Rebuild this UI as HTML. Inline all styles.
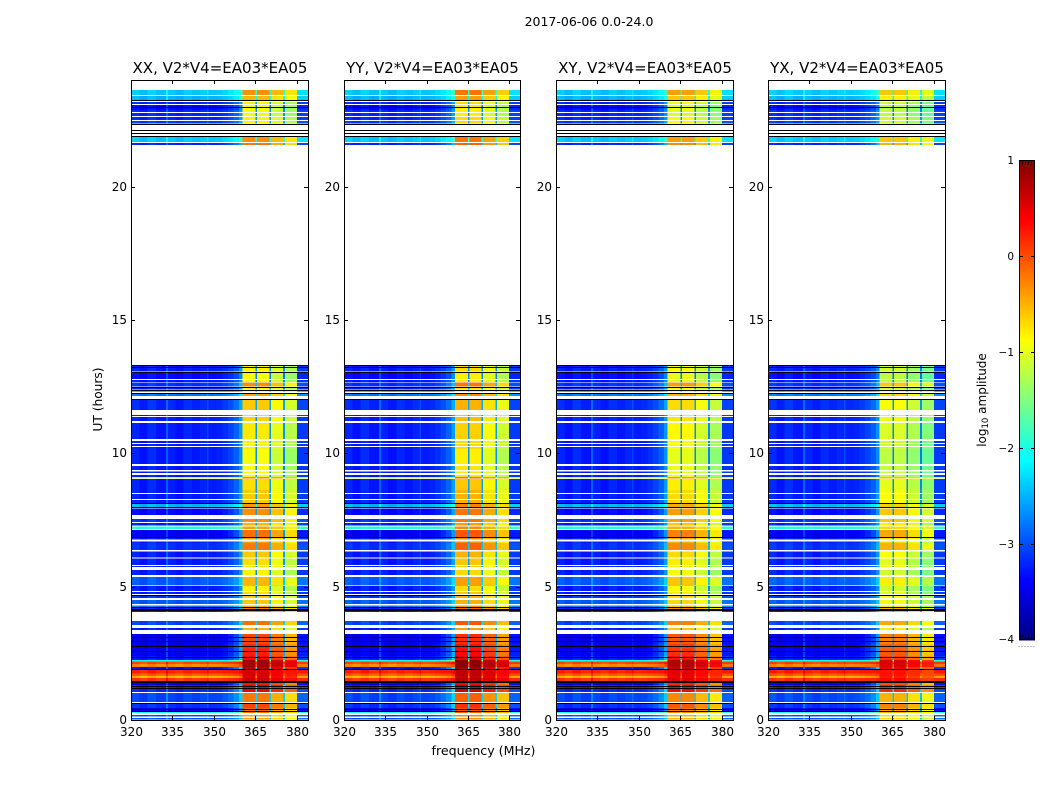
<!DOCTYPE html>
<html>
<head>
<meta charset="utf-8">
<title>2017-06-06 amplitude waterfall</title>
<style>
html,body{margin:0;padding:0;background:#fff;}
svg{display:block;}
text{font-family:"DejaVu Sans","Liberation Sans",sans-serif;fill:#000;}
</style>
</head>
<body>
<svg id="chart" xmlns="http://www.w3.org/2000/svg" width="1050" height="800" viewBox="0 0 1050 800">
<rect width="1050" height="800" fill="#fff"/>
<text x="589" y="26" font-size="12.5" text-anchor="middle">2017-06-06 0.0-24.0</text>
<text x="483.5" y="755" font-size="12.6" text-anchor="middle">frequency (MHz)</text>
<text x="0" y="0" font-size="12.2" text-anchor="middle" transform="translate(102,399.5) rotate(-90)">UT (hours)</text>
<text x="0" y="0" font-size="12" text-anchor="middle" transform="translate(986,400) rotate(-90)">log<tspan font-size="8.5" dy="2">10</tspan><tspan dy="-2"> amplitude</tspan></text>
</svg>
<script>
// Panels
const panelTitles = ["XX, V2*V4=EA03*EA05", "YY, V2*V4=EA03*EA05", "XY, V2*V4=EA03*EA05", "YX, V2*V4=EA03*EA05"];
const panelHighOffset = [0, 0.12, -0.08, -0.28];
const panelLowOffset = [0, 0, 0, 0.02];

// Ticks
const freqTicks = [320, 335, 350, 365, 380];
const utTicks = [0, 5, 10, 15, 20];
const colorTicks = [1, 0, -1, -2, -3, -4];

// Frequency channels (MHz edges), band-pass weight, and channel offset (log10 amplitude)
const chanEdges = [320,323,326,329,332.7,333.4,336,339,342,345,347.5,348,351,353,355,357,359,360.4,365,365.6,370,370.6,375,375.6,380,384];
const chanPass = [0,0,0,0,0.04,0,0,0,0,0,0.02,0,0,0.02,0.06,0.12,0.22,1,0.28,1,0.28,0.96,0.28,0.92,0.04];
const chanOffset = [0.05,-0.05,0.08,-0.03,0.25,0.02,-0.06,0.05,-0.02,0.04,0.15,0,0.03,0.05,0.05,0.05,0.08,-0.02,-0.1,-0.02,-0.1,-0.15,-0.1,-0.28,0.05];

// Time rows (UT hours): start, end, level outside band, level inside band
const rowEnd = [23.63,23.40,23.18,23.06,22.88,22.76,22.61,22.46,21.86,21.64,
13.31,13.20,13.01,12.75,12.65,12.45,12.36,12.26,12.00,11.44,11.36,11.14,10.46,10.35,10.24,10.16,9.52,9.32,9.19,9.11,9.04,8.63,8.48,8.25,8.14,7.93,7.54,7.39,7.25,7.13,6.84,6.69,6.64,6.32,6.05,5.78,5.63,5.36,5.06,5.03,4.80,4.65,4.50,4.29,4.22,4.13,
3.71,3.45,3.23,2.85,2.63,2.40,2.25,2.19,2.10,1.99,1.88,1.74,1.65,1.58,1.39,1.31,1.01,0.64,0.45,0.30,0.19,0.08];
const rowStart = [23.44,23.25,23.10,22.88,22.80,22.65,22.50,22.37,21.68,21.56,
13.24,13.07,12.79,12.68,12.51,12.39,12.32,12.15,11.63,11.40,11.21,10.54,10.38,10.27,10.16,9.60,9.38,9.26,9.11,9.06,8.63,8.51,8.29,8.14,7.99,7.69,7.43,7.29,7.17,6.87,6.77,6.64,6.38,6.09,5.81,5.74,5.44,5.06,5.03,4.84,4.73,4.58,4.35,4.24,4.13,4.05,
3.57,3.38,2.85,2.63,2.40,2.25,2.19,2.10,1.99,1.91,1.74,1.65,1.58,1.46,1.31,1.05,0.68,0.45,0.30,0.26,0.13,0.02];
const rowLow = [-2.4,-2.5,-3.2,-3.35,-3.2,-3.2,-3.2,-3.1,-2.4,-3.2,
-3.25,-3.25,-3.35,-3.25,-3.15,-3.25,-3.25,-2.8,-3.2,-3.25,-3.25,-3.25,-3.25,-3.25,-3.25,-3.25,-3.25,-3.25,-3.25,-1.1,-3.25,-3.25,-3.25,-3.25,-2.5,-3.35,-3.15,-3.25,-2,-3.45,-3.25,-3.25,-3.15,-3.25,-3.25,-3.25,-3.25,-2.95,-1.7,-3.25,-3.25,-3.15,-2.95,-2.8,-3.25,-3.25,
-3.05,-3.25,-3.5,-3.45,-3.45,-3.3,-2.1,0,-0.3,-3.3,0.2,-0.1,-0.5,0.1,-3.5,-3.2,-3.05,-3.15,-3.5,-2,-3,-3];
const rowHigh = [-0.3,-0.5,-0.8,-0.9,-0.9,-0.9,-0.8,-0.8,-0.3,-0.2,
-0.8,-0.8,-0.9,-0.9,-0.3,-0.8,-0.8,-0.4,-0.6,-0.7,-0.65,-0.75,-0.8,-0.8,-0.8,-0.9,-0.85,-0.85,-0.85,-0.25,-0.7,-0.6,-0.6,-0.6,-0.35,-0.3,-0.3,-0.5,-0.4,-0.15,-0.4,-0.4,-0.2,-0.6,-0.7,-0.7,-0.8,-0.5,-0.5,-0.8,-0.7,-0.6,-0.6,-0.5,-0.2,-0.2,
-0.15,-0.5,0.05,0.2,0.25,0.4,0.85,0.85,0.85,0.75,0.6,0.6,0.55,0.65,0.3,0.5,-0.2,0.05,-0.1,-0.2,-0.4,-0.4];

// Dark flagged lines in time (UT hours)
const blackLines = [23.25,22.99,22.35,22.13,22.01,21.90,13.31,13.24,13.05,12.49,12.38,12.26,12.04,8.14,7.99,6.86,4.69,4.22,4.17,4.13,3.11,2.96,2.78,2.59,2.36,1.91,1.45,1.41,1.28,1.20,0.64,0.43,0.34];

// Axes
const panelLeft = [131, 344, 556, 768];
const panelWidth = [177, 176, 177, 177];
const plotTop = 80, plotBottom = 720;
const freqMin = 320, freqMax = 384, utMin = 0, utMax = 24;
const cbarMin = -4, cbarMax = 1, cbarTop = 160, cbarBottom = 640, cbarLeft = 1019, cbarWidth = 16;

const NS = "http://www.w3.org/2000/svg";
const svg = document.getElementById("chart");
function make(tag, attrs, parent) {
  const el = document.createElementNS(NS, tag);
  for (const k in attrs) el.setAttribute(k, attrs[k]);
  (parent || svg).appendChild(el);
  return el;
}
function clip01(v) { return Math.max(0, Math.min(1, v)); }
function jet(v) {
  const t = clip01((v - cbarMin) / (cbarMax - cbarMin));
  const r = clip01(Math.min(4 * t - 1.5, -4 * t + 4.5));
  const g = clip01(Math.min(4 * t - 0.5, -4 * t + 3.5));
  const b = clip01(Math.min(4 * t + 0.5, -4 * t + 2.5));
  return "rgb(" + Math.round(r * 255) + "," + Math.round(g * 255) + "," + Math.round(b * 255) + ")";
}
function xScale(p, f) { return panelLeft[p] + (f - freqMin) / (freqMax - freqMin) * panelWidth[p]; }
function yScale(u) { return plotBottom - (u - utMin) / (utMax - utMin) * (plotBottom - plotTop); }
function cbarY(v) { return cbarBottom - (v - cbarMin) / (cbarMax - cbarMin) * (cbarBottom - cbarTop); }

panelTitles.forEach(function (title, p) {
  const g = make("g", {});
  
  

  const cells = make("g", { "shape-rendering": "crispEdges" }, g);
  
  
  rowStart.forEach(function (u0, r) {
    const yTop = yScale(rowEnd[r]);
    const h = yScale(u0) - yTop;
    chanPass.forEach(function (pass, c) {
      const x0 = xScale(p, chanEdges[c]);
      const x1 = xScale(p, chanEdges[c + 1]);
      const lo = rowLow[r] + panelLowOffset[p];
      const hi = rowHigh[r] + panelHighOffset[p];
      const val = lo + (hi - lo) * pass + chanOffset[c];
      const cell = make("rect", { x: x0.toFixed(2), y: yTop.toFixed(2), width: (x1 - x0).toFixed(2), height: h.toFixed(2), fill: jet(val) }, cells);
      
      
    });
  });

  blackLines.forEach(function (u) {
    const line = make("rect", { x: panelLeft[p], y: Math.round(yScale(u)), width: panelWidth[p], height: 1, fill: "#000", "shape-rendering": "crispEdges" }, g);
    
    
  });

  const frame = make("rect", { x: panelLeft[p] + 0.5, y: plotTop + 0.5, width: panelWidth[p], height: plotBottom - plotTop, fill: "none", stroke: "#000", "stroke-width": 1 }, g);
  
  

  const heading = make("text", { x: panelLeft[p] + panelWidth[p] / 2 + 0.5, y: 73, "font-size": "15", "text-anchor": "middle" }, g);
  
  
  heading.textContent = title;

  freqTicks.forEach(function (f) {
    const x = Math.round(xScale(p, f)) + 0.5;
    const tb = make("path", { d: "M" + x + " " + plotBottom + "v-4M" + x + " " + plotTop + "v4", stroke: "#000", "stroke-width": 1, fill: "none" }, g);
    
    
    const lab = make("text", { x: x, y: 736, "font-size": "12", "text-anchor": "middle" }, g);
    
    
    lab.textContent = f;
  });

  utTicks.forEach(function (u) {
    const y = Math.round(yScale(u)) + 0.5;
    const right = panelLeft[p] + panelWidth[p];
    const tk = make("path", { d: "M" + panelLeft[p] + " " + y + "h4M" + right + " " + y + "h-4", stroke: "#000", "stroke-width": 1, fill: "none" }, g);
    
    
    const lab = make("text", { x: panelLeft[p] - 4, y: y + 3.5, "font-size": "12", "text-anchor": "end" }, g);
    
    
    lab.textContent = u;
  });
});

// Colorbar
const cbar = make("g", {});


const cbarSteps = 240;
for (let i = 0; i < cbarSteps; i++) {
  const v0 = cbarMin + (cbarMax - cbarMin) * i / cbarSteps;
  const v1 = cbarMin + (cbarMax - cbarMin) * (i + 1) / cbarSteps;
  const seg = make("rect", { x: cbarLeft, y: cbarY(v1).toFixed(2), width: cbarWidth, height: (cbarY(v0) - cbarY(v1) + 0.3).toFixed(2), fill: jet((v0 + v1) / 2), "shape-rendering": "crispEdges" }, cbar);
  
  
}
const cbarFrame = make("rect", { x: cbarLeft + 0.5, y: cbarTop + 0.5, width: cbarWidth - 1, height: cbarBottom - cbarTop - 1, fill: "none", stroke: "#000", "stroke-width": 1 }, cbar);


for (let i = 0; i < 6; i++) {
  const x = cbarLeft + 0.5 + i * 3;
  const edgeTicks = make("path", { d: "M" + x + " " + cbarTop + "v5M" + x + " " + cbarBottom + "v-5", stroke: "#000", "stroke-width": 0.7, fill: "none" }, cbar);
  
  
  const dot = make("rect", { x: x - 1, y: 646, width: 1, height: 1, fill: "#888" }, cbar);
  
  
}
colorTicks.forEach(function (v) {
  const y = Math.round(cbarY(v)) + (v === 1 ? 0.5 : v === -4 ? -0.5 : 0.5);
  const tick = make("path", { d: "M" + cbarLeft + " " + y + "h4M" + (cbarLeft + cbarWidth) + " " + y + "h-4", stroke: "#000", "stroke-width": 1, fill: "none" }, cbar);
  
  
  const lab = make("text", { x: cbarLeft - 5, y: y + 3.5, "font-size": "10.5", "text-anchor": "end" }, cbar);
  
  
  lab.textContent = (v < 0 ? "\u2212" + Math.abs(v) : String(v));
});
</script>
</body>
</html>
